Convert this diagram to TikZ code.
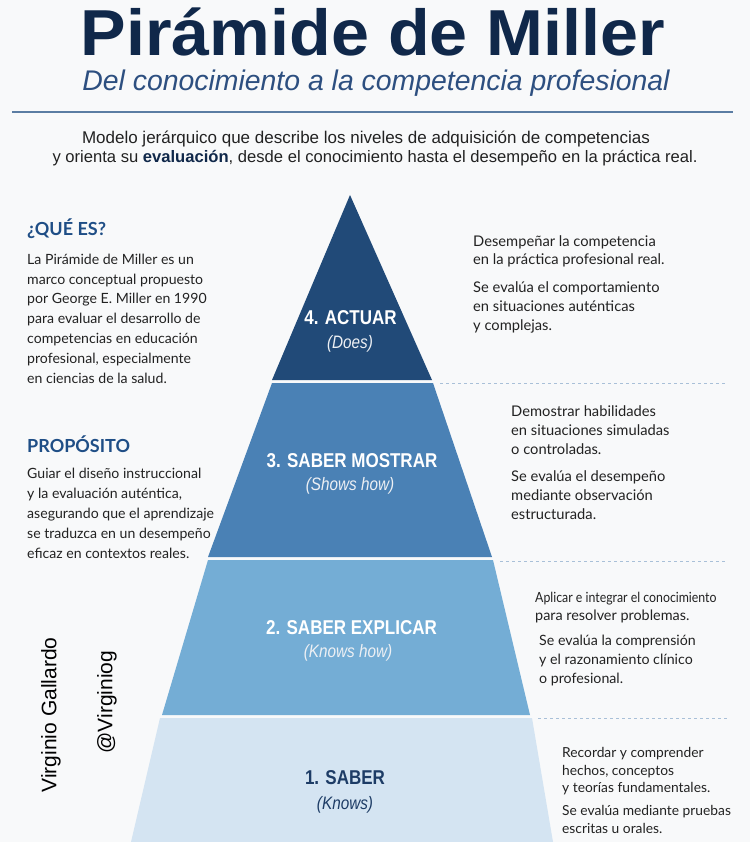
\documentclass[tikz,border=0pt]{standalone}
\usepackage{fontspec}
\setmainfont{Lato}
\newfontfamily\titlefont[FakeStretch=1.05]{Liberation Sans}
\newfontfamily\descfont{Liberation Sans}
\newfontfamily\condfont[FakeStretch=0.85]{Liberation Sans}
\newfontfamily\narrowlato[FakeStretch=0.88]{Lato}
\usepackage{tikz}
\usetikzlibrary{positioning}

\definecolor{bgwhite}{HTML}{F8F9FA}
\definecolor{titlenavy}{HTML}{10284A}
\definecolor{subblue}{HTML}{2D4F80}
\definecolor{rulebl}{HTML}{5B7DA3}
\definecolor{headblue}{HTML}{1F4E86}
\definecolor{bodygray}{HTML}{222222}
\definecolor{lvlfour}{HTML}{214A78}
\definecolor{lvlthree}{HTML}{4A81B5}
\definecolor{lvltwo}{HTML}{74ADD5}
\definecolor{lvlone}{HTML}{D4E4F2}
\definecolor{navytext}{HTML}{1D3C66}
\definecolor{sepblue}{HTML}{A9C0D8}

\tikzset{
  levellabel/.style={font=\condfont\bfseries\fontsize{20}{22}\selectfont, text=white, inner sep=0, anchor=base},
  levelsub/.style={font=\condfont\itshape\fontsize{18}{20}\selectfont, text=white!92!lvlfour, inner sep=0, anchor=base},
  sidehead/.style={font=\bfseries\fontsize{18}{20}\selectfont, text=headblue, inner sep=0, anchor=base west},
  sidetext/.style={font=\fontsize{14.1}{19.8}\selectfont, text=bodygray, inner sep=0, anchor=base west, align=left},
  righttext/.style={font=\fontsize{14.7}{18.6}\selectfont, text=bodygray, inner sep=0, anchor=base west, align=left},
  sepline/.style={draw=sepblue, dash pattern=on 3pt off 3pt, line width=1pt}
}

\begin{document}
\begin{tikzpicture}[x=1pt,y=-1pt]

	\useasboundingbox (0,0) rectangle (750,842);
	\fill[bgwhite] (0,0) rectangle (750,842);

	\node[font=\titlefont\bfseries\fontsize{65}{70}\selectfont, text=titlenavy, inner sep=0, anchor=base] (titulo) at (373,56) {Pirámide de Miller};
	\node[font=\descfont\itshape\fontsize{28.4}{30}\selectfont, text=subblue, inner sep=0, anchor=base] (subtitulo) at (376,91) {Del conocimiento a la competencia profesional};
	\coordinate (rulel) at (12,112);
	\coordinate (ruler) at (733,112);
	\draw[rulebl, line width=1.2pt] (rulel) -- (ruler);
	\node[font=\descfont\fontsize{17}{19}\selectfont, text=bodygray, inner sep=0, anchor=base] (desc1) at (366,144) {Modelo jerárquico que describe los niveles de adquisición de competencias};
	\node[font=\descfont\fontsize{16.6}{19}\selectfont, text=bodygray, inner sep=0, anchor=base] (desc2) at (375,163) {y orienta su \textbf{\textcolor{titlenavy}{evaluación}}, desde el conocimiento hasta el desempeño en la práctica real.};

	\fill[lvlfour] (350,195) -- (432,380) -- (272,380) -- cycle;
	\fill[lvlthree] (272,383) -- (433,383) -- (492,557) -- (208,557) -- cycle;
	\fill[lvltwo] (208,560) -- (493,560) -- (530,715) -- (162,715) -- cycle;
	\fill[lvlone] (160,718) -- (532,718) -- (553,842) -- (131,842) -- cycle;

	\node[levellabel] (actuar) at (350.5,324) {4. ACTUAR};
	\node[levelsub] (does) at (350,348) {(Does)};
	\node[levellabel] (mostrar) at (352,467) {3. SABER MOSTRAR};
	\node[levelsub] (shows) at (350,490) {(Shows how)};
	\node[levellabel] (explicar) at (351.5,634) {2. SABER EXPLICAR};
	\node[levelsub] (knowshow) at (348,657) {(Knows how)};
	\node[levellabel, text=navytext] (saber) at (345,784) {1. SABER};
	\node[levelsub, text=navytext] (knows) at (345,809) {(Knows)};

	\coordinate (sep4a) at (440,383);
	\coordinate (sep4b) at (727,383);
	\coordinate (sep3a) at (500,561);
	\coordinate (sep3b) at (727,561);
	\coordinate (sep2a) at (538,718);
	\coordinate (sep2b) at (727,718);
	\draw[sepline] (sep4a) -- (sep4b);
	\draw[sepline] (sep3a) -- (sep3b);
	\draw[sepline] (sep2a) -- (sep2b);

	\node[sidehead] (quees) at (27,235) {¿QUÉ ES?};
	\node[sidetext] (queestxt) at (27,383) {La Pirámide de Miller es un\\marco conceptual propuesto\\por George E. Miller en 1990\\para evaluar el desarrollo de\\competencias en educación\\profesional, especialmente\\en ciencias de la salud.};
	\node[sidehead] (proposito) at (27,452) {PROPÓSITO};
	\node[sidetext] (propositotxt) at (27,558) {Guiar el diseño instruccional\\y la evaluación auténtica,\\asegurando que el aprendizaje\\se traduzca en un desempeño\\eficaz en contextos reales.};

	\node[righttext] (actuartxt) at (473,330) {Desempeñar la competencia\\en la práctica profesional real.\\[9.5pt]Se evalúa el comportamiento\\en situaciones auténticas\\y complejas.};
	\node[righttext, font=\fontsize{14.7}{19}\selectfont] (mostrartxt) at (511,519) {Demostrar habilidades\\en situaciones simuladas\\o controladas.\\[8pt]Se evalúa el desempeño\\mediante observación\\estructurada.};
	\node[righttext, font=\narrowlato\fontsize{14}{18.5}\selectfont] (explicartxt) at (535,602) {Aplicar e integrar el conocimiento};
	\node[righttext, font=\fontsize{14.4}{18.5}\selectfont] (explicartxtb) at (535,620) {para resolver problemas.};
	\node[righttext, font=\fontsize{14.2}{19}\selectfont] (explicartxt2) at (539,683) {Se evalúa la comprensión\\y el razonamiento clínico\\o profesional.};
	\node[righttext, font=\fontsize{13.8}{17.6}\selectfont] (sabertxt) at (562,833) {Recordar y comprender\\hechos, conceptos\\y teorías fundamentales.\\[5pt]Se evalúa mediante pruebas\\escritas u orales.};

	\node[rotate=90, font=\descfont\fontsize{21}{24}\selectfont, text=black, inner sep=0] (autor) at (51,715) {Virginio Gallardo};
	\node[rotate=90, font=\descfont\fontsize{21}{24}\selectfont, text=black, inner sep=0] (usuario) at (107,702) {@Virginiog};
\end{tikzpicture}
\end{document}
